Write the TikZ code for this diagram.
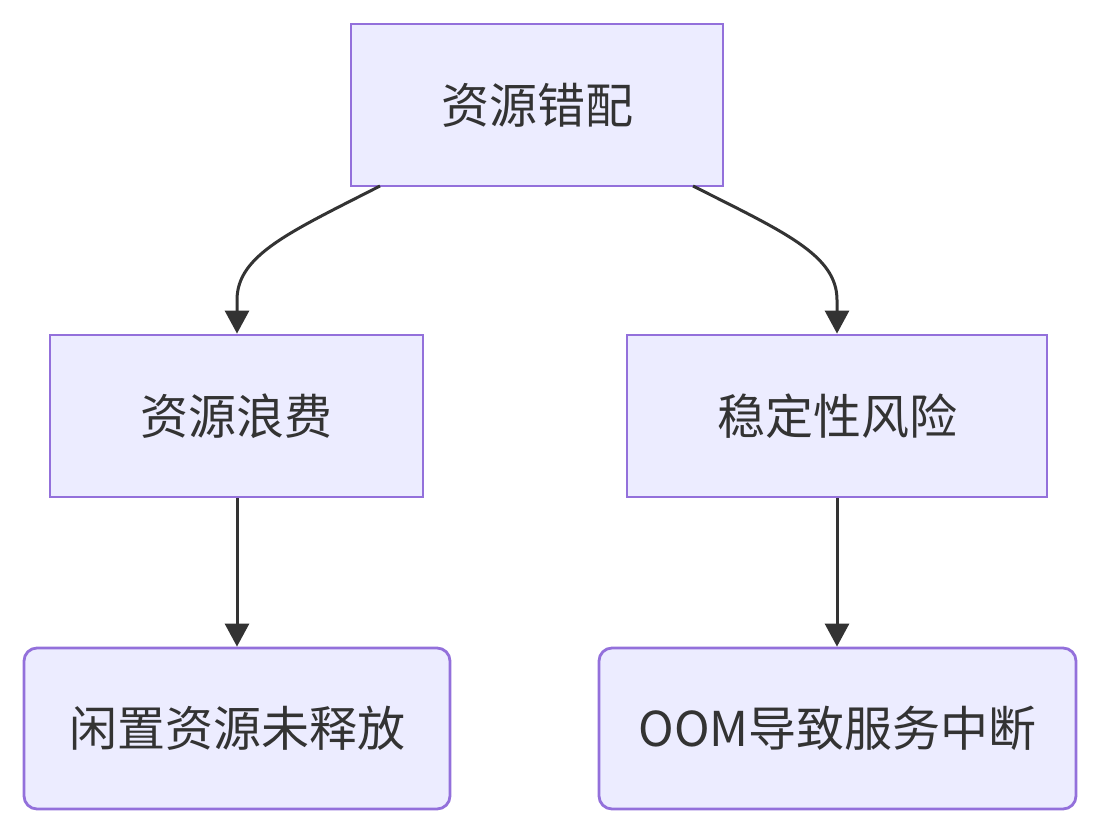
\documentclass[tikz,border=0pt]{standalone}
\usepackage{fontspec}
\setmainfont{Noto Sans CJK SC}
\usetikzlibrary{arrows.meta}
\definecolor{nfill}{HTML}{ECECFF}
\definecolor{nborder}{HTML}{9370DB}
\definecolor{ink}{HTML}{333333}
\begin{document}
\begin{tikzpicture}[x=1pt,y=-1pt,
  box/.style={draw=nborder,fill=nfill,line width=2.8pt,inner sep=0pt,text=ink,font=\fontsize{48}{54}\selectfont},
  conn/.style={draw=ink,line width=3pt,-{Triangle[length=23pt,width=24pt]}}]
\useasboundingbox (0,0) rectangle (1100,834);
\node[box,minimum width=372pt,minimum height=162pt] (a) at (537,105) {资源错配};
\node[box,minimum width=373pt,minimum height=162pt] (b) at (236.5,416) {资源浪费};
\node[box,minimum width=420pt,minimum height=162pt] (c) at (837,416) {稳定性风险};
\node[box,rounded corners=13pt,minimum width=426pt,minimum height=161pt] (d) at (237,728.5) {闲置资源未释放};
\node[box,rounded corners=13pt,minimum width=477pt,minimum height=161pt] (e) at (837.5,728.5) {OOM导致服务中断};
\coordinate (a1) at (380,186);
\coordinate (a2) at (693,186);
\draw[conn] (a1) .. controls (290,232) and (237,255) .. (237,300) -- (b.north -| 237,0);
\draw[conn] (a2) .. controls (784,232) and (837,255) .. (837,300) -- (c.north -| 837,0);
\draw[conn] (b.south -| 237,0) -- (d.north -| 237,0);
\draw[conn] (c.south) -- (c.south |- d.north);
\end{tikzpicture}
\end{document}
